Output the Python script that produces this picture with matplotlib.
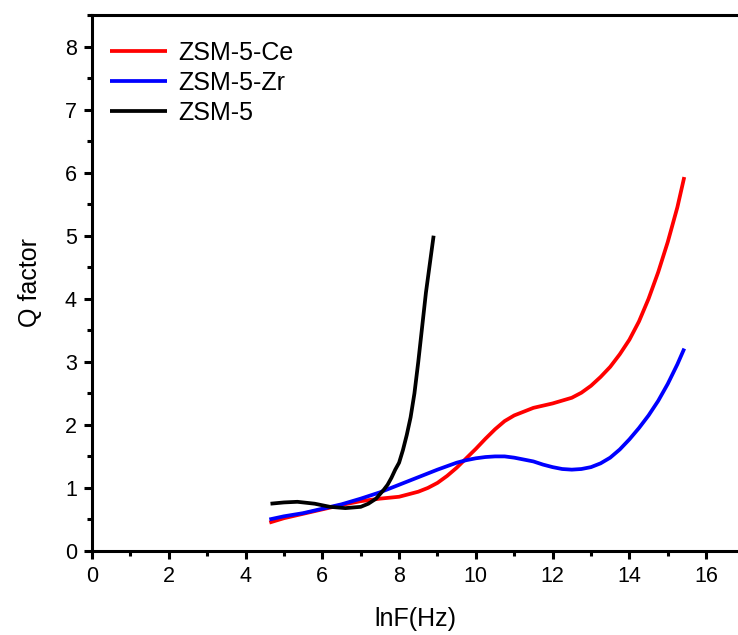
import matplotlib
matplotlib.use("Agg")
import matplotlib.pyplot as plt
from matplotlib.ticker import MultipleLocator

plt.rcParams['font.family'] = ['Liberation Sans', 'DejaVu Sans']

# ZSM-5-Ce
lnf_ce = [4.62, 5.0, 5.5, 6.0, 6.5, 7.0, 7.5, 8.0, 8.5, 8.75, 9.0, 9.25, 9.5, 9.75,
          10.0, 10.25, 10.5, 10.75, 11.0, 11.5, 12.0, 12.5, 12.75, 13.0, 13.25, 13.5,
          13.75, 14.0, 14.25, 14.5, 14.75, 15.0, 15.25, 15.43]
q_ce = [0.45, 0.52, 0.59, 0.66, 0.73, 0.79, 0.83, 0.86, 0.94, 1.00, 1.08, 1.19, 1.32, 1.47,
        1.62, 1.78, 1.93, 2.06, 2.15, 2.27, 2.34, 2.43, 2.51, 2.62, 2.76, 2.92,
        3.12, 3.35, 3.64, 4.00, 4.42, 4.90, 5.45, 5.93]

# ZSM-5-Zr
lnf_zr = [4.62, 5.0, 5.5, 6.0, 6.5, 7.0, 7.5, 8.0, 8.5, 9.0, 9.5, 9.75, 10.0, 10.25,
          10.5, 10.75, 11.0, 11.25, 11.5, 11.75, 12.0, 12.25, 12.5, 12.75, 13.0, 13.25,
          13.5, 13.75, 14.0, 14.25, 14.5, 14.75, 15.0, 15.25, 15.43]
q_zr = [0.50, 0.55, 0.60, 0.67, 0.74, 0.83, 0.93, 1.05, 1.17, 1.29, 1.40, 1.44, 1.47, 1.49,
        1.50, 1.50, 1.48, 1.45, 1.42, 1.37, 1.33, 1.30, 1.29, 1.30, 1.33, 1.39,
        1.48, 1.61, 1.77, 1.95, 2.15, 2.38, 2.65, 2.96, 3.21]

# ZSM-5
lnf_z = [4.65, 5.0, 5.35, 5.8, 6.2, 6.6, 7.0, 7.2, 7.4, 7.5, 7.6, 7.7, 7.8, 7.9,
         8.0, 8.1, 8.2, 8.3, 8.4, 8.5, 8.6, 8.7, 8.8, 8.9]
q_z = [0.75, 0.77, 0.78, 0.75, 0.70, 0.68, 0.70, 0.75, 0.83, 0.90, 0.97, 1.05, 1.16, 1.29,
       1.40, 1.60, 1.84, 2.12, 2.50, 3.00, 3.55, 4.10, 4.55, 5.00]

labels = ["ZSM-5-Ce", "ZSM-5-Zr", "ZSM-5"]
colors = ["#ff0000", "#0000ff", "#000000"]

fig = plt.figure(figsize=(7.38, 6.35), dpi=100)
ax = fig.add_axes([0.1247, 0.1323, 1.0 - 0.1247, 0.9764 - 0.1323])

for x, y, lab, c in zip([lnf_ce, lnf_zr, lnf_z], [q_ce, q_zr, q_z], labels, colors):
    ax.plot(x, y, color=c, lw=2.7, label=lab, solid_capstyle='butt',
            solid_joinstyle='round')

ax.set_xlim(0, 16.83)
ax.set_ylim(0, 8.5)
ax.xaxis.set_major_locator(MultipleLocator(2))
ax.xaxis.set_minor_locator(MultipleLocator(1))
ax.yaxis.set_major_locator(MultipleLocator(1))
ax.yaxis.set_minor_locator(MultipleLocator(0.5))

for side in ['left', 'bottom', 'top']:
    ax.spines[side].set_linewidth(2.2)
ax.spines['right'].set_visible(False)

ax.tick_params(which='major', direction='out', length=6, width=2.2,
               labelsize=15.5, top=False, right=False, pad=5)
ax.tick_params(which='minor', direction='out', length=3.5, width=2.2,
               top=False, right=False)

ax.set_xlabel("lnF(Hz)", fontsize=18, labelpad=14)
ax.set_ylabel("Q factor", fontsize=18, labelpad=16)

ax.legend(loc='upper left', frameon=False, fontsize=18, handlelength=2.3,
          handletextpad=0.45, labelspacing=0.25, borderaxespad=0.3,
          bbox_to_anchor=(0.0, 0.985))

fig.savefig("out.png", dpi=100)
